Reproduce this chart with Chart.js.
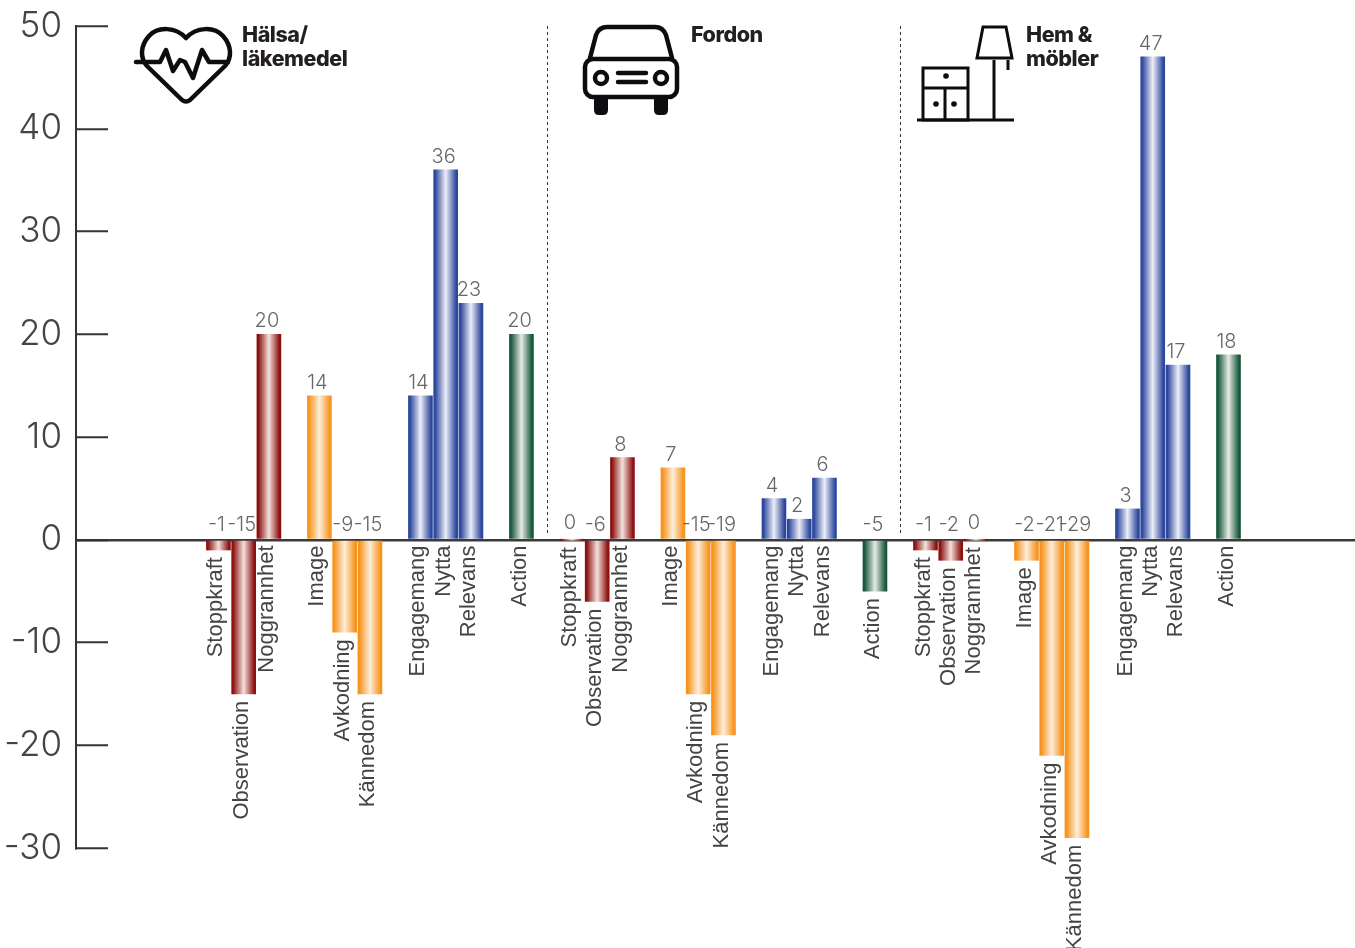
<!DOCTYPE html>
<html lang="sv">
<head>
<meta charset="utf-8">
<title>Index per bransch</title>
<script src="https://cdn.jsdelivr.net/npm/chart.js@4"></script>
<style>
    html, body { margin: 0; background: #fff; }
    #wrap { position: relative; width: 1355px; height: 948px; overflow: hidden; }
    canvas { position: absolute; left: 0; top: 0; }
    .title { position: absolute; font: 800 21.5px/24px Inter, sans-serif; letter-spacing: -0.45px; color: #231f20; }
    svg { position: absolute; left: 0; top: 0; }
    svg .line { fill: none; stroke: #0d0d0f; stroke-width: 4.5; stroke-linejoin: round; stroke-linecap: round; }
    svg .thin { fill: none; stroke: #0d0d0f; stroke-width: 3; stroke-linecap: butt; }
    svg .solid { fill: #0d0d0f; }
</style>
</head>
<body>
<div id="wrap">
    <canvas id="chart" width="1355" height="948"></canvas>
    <svg width="1355" height="948">
        <!-- heart -->
        <path class="line" d="M186 38C176 27 158 26 149 36C140 46 140 58 147 66L182 100Q186 103 190 100L225 66C232 58 232 46 223 36C214 26 196 27 186 38Z"/>
        <path class="line" d="M136 62H160L166 50L173 71L180 60L185 62L193 78L202 50L209 62H228"/>
        <!-- car -->
        <path class="line" d="M590 58L596 35Q599 27 607 27H655Q663 27 666 35L672 58"/>
        <rect class="line" x="585" y="59" width="92" height="38" rx="8"/>
        <path class="solid" d="M594 97H608V110Q608 115 603 115H599Q594 115 594 110Z"/>
        <path class="solid" d="M654 97H668V110Q668 115 663 115H659Q654 115 654 110Z"/>
        <circle class="line" cx="601" cy="78" r="6"/>
        <circle class="line" cx="661" cy="78" r="6"/>
        <path class="line" d="M618 73H646M618 82H646"/>
        <!-- cabinet and lamp -->
        <path class="thin" d="M917 120H1014"/>
        <rect class="thin" x="923" y="68" width="45" height="52"/>
        <path class="thin" d="M923 88H968M945 88V120M994 60V120M1008 60V70"/>
        <path class="thin" d="M983 27H1006L1012 58H977Z"/>
        <circle class="solid" cx="946" cy="76" r="2.8"/>
        <circle class="solid" cx="936" cy="104" r="2.8"/>
        <circle class="solid" cx="954" cy="104" r="2.8"/>
    </svg>
    <div class="title" style="left:242px;top:22px">Hälsa/<br>läkemedel</div>
    <div class="title" style="left:691px;top:22px">Fordon</div>
    <div class="title" style="left:1026px;top:22px">Hem &amp;<br>möbler</div>
</div>
<script>
const measures = ["Stoppkraft", "Observation", "Noggrannhet", "Image", "Avkodning", "Kännedom", "Engagemang", "Nytta", "Relevans", "Action"]
const halsa = [-1, -15, 20, 14, -9, -15, 14, 36, 23, 20]
const fordon = [0, -6, 8, 7, -15, -19, 4, 2, 6, -5]
const hem = [-1, -2, 0, -2, -21, -29, 3, 47, 17, 18]
const yTicks = [-30, -20, -10, 0, 10, 20, 30, 40, 50]

// measure block of each bar: attention, brand, message, action
const blocks = [0, 0, 0, 1, 1, 1, 2, 2, 2, 3]
const shades = [
    ["#8c1010", "#f3e2dc"],
    ["#f7941d", "#fdeedb"],
    ["#2d479c", "#eceef8"],
    ["#17573a", "#e6ebe6"],
]
const barWidth = 24

// one empty slot between blocks, and between the three industries
const bars = []
;[halsa, fordon, hem].forEach((values, c) => {
    values.forEach((v, i) => {
        bars.push({x: c * 14 + i + blocks[i], y: v, label: measures[i], block: blocks[i]})
    })
})
const dividers = [13, 27]

function barFill(ctx) {
    const {chart, raw} = ctx
    if (!raw) return "#000"
    const [edge, mid] = shades[raw.block]
    if (!chart.chartArea) return edge
    const cx = chart.scales.x.getPixelForValue(raw.x)
    const g = chart.ctx.createLinearGradient(cx - barWidth / 2, 0, cx + barWidth / 2, 0)
    g.addColorStop(0, edge)
    g.addColorStop(0.06, edge)
    g.addColorStop(0.5, mid)
    g.addColorStop(0.94, edge)
    g.addColorStop(1, edge)
    return g
}

// dashed separators between the industries
const dividerLines = {
    id: "dividerLines",
    beforeDatasetsDraw(chart) {
        const {ctx, scales: {x, y}} = chart
        ctx.save()
        ctx.strokeStyle = "#333"
        ctx.lineWidth = 1
        ctx.setLineDash([3, 3])
        dividers.forEach(slot => {
            const px = Math.round(x.getPixelForValue(slot)) + 0.5
            ctx.beginPath()
            ctx.moveTo(px, y.getPixelForValue(50))
            ctx.lineTo(px, y.getPixelForValue(0) - 4)
            ctx.stroke()
        })
        ctx.restore()
    }
}

// value above each bar, measure name rotated under it
const barLabels = {
    id: "barLabels",
    afterDatasetsDraw(chart) {
        const {ctx} = chart
        chart.getDatasetMeta(0).data.forEach((el, i) => {
            const top = Math.min(el.y, el.base)
            const bottom = Math.max(el.y, el.base)
            const v = bars[i].y
            ctx.save()
            ctx.textAlign = "center"
            ctx.textBaseline = "middle"
            ctx.fillStyle = "#666"
            ctx.font = "300 20px Inter, sans-serif"
            ctx.fillText(String(v), el.x - 2, top - (v > 0 ? 13 : 16))
            ctx.translate(el.x - 2, bottom + 7)
            ctx.rotate(-Math.PI / 2)
            ctx.textAlign = "right"
            ctx.fillStyle = "#444"
            ctx.font = "22px 'Liberation Sans', sans-serif"
            ctx.fillText(bars[i].label, 0, 0)
            ctx.restore()
        })
    }
}

new Chart(document.getElementById("chart"), {
    type: "bar",
    data: {
        datasets: [{
            data: bars,
            backgroundColor: barFill,
            barThickness: barWidth,
            minBarLength: 1,
        }]
    },
    options: {
        responsive: false,
        animation: false,
        events: [],
        layout: {padding: {top: 26, bottom: 100, left: 0, right: 0}},
        plugins: {legend: {display: false}, tooltip: {enabled: false}},
        scales: {
            x: {type: "linear", display: false, offset: false, min: -5.64, max: 45.01},
            y: {
                min: -30,
                max: 50,
                afterBuildTicks(axis) {
                    axis.ticks = yTicks.map(value => ({value}))
                },
                afterFit(axis) {
                    axis.width = 76
                    axis.paddingTop = 0
                    axis.paddingBottom = 0
                },
                border: {display: true, color: "#333", width: 2},
                grid: {
                    color: c => c.tick && c.tick.value === 0 ? "#3a3a3a" : "transparent",
                    lineWidth: 2.5,
                    tickColor: "#333",
                    tickWidth: 2,
                    tickLength: -32,
                },
                ticks: {
                    padding: 46,
                    color: "#444",
                    font: {family: "Inter, sans-serif", size: 35, weight: "300"},
                    callback: v => String(v),
                }
            }
        }
    },
    plugins: [dividerLines, barLabels]
})
</script>
</body>
</html>
